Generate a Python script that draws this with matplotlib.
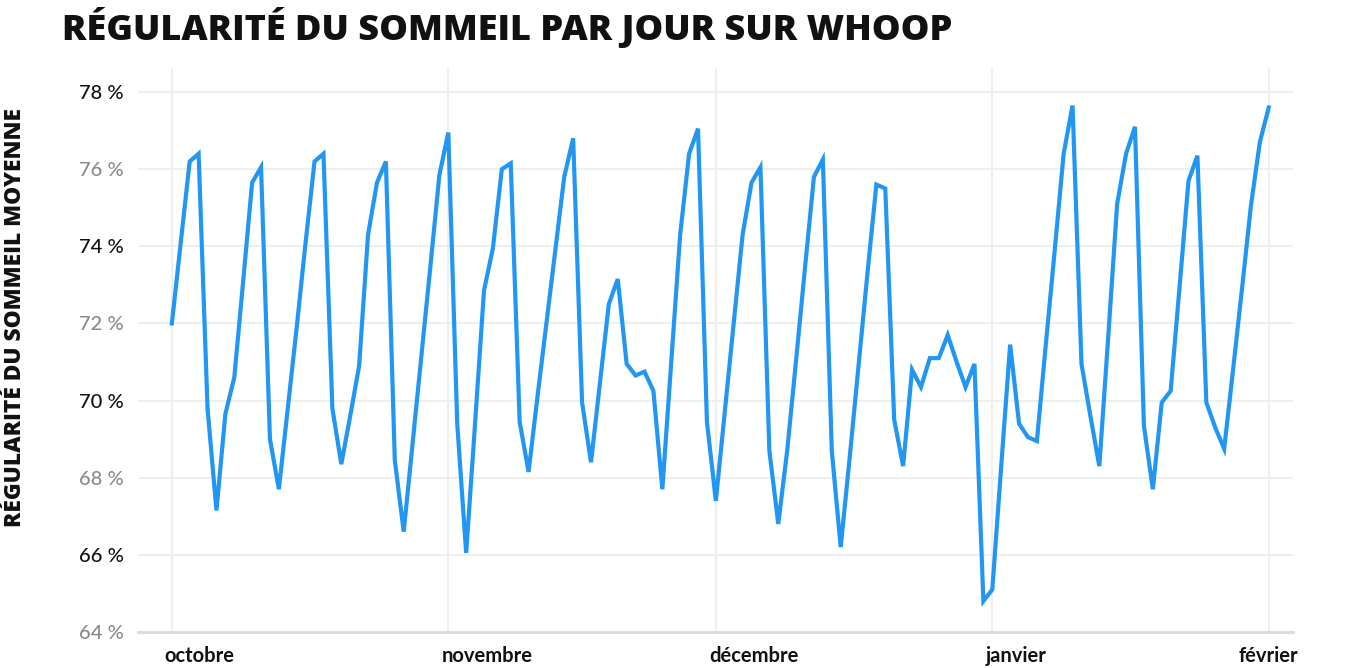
import numpy as np
import pandas as pd
import matplotlib
matplotlib.use("Agg")
import matplotlib.pyplot as plt
import matplotlib.transforms as mtransforms

# Régularité du sommeil par jour (1 oct -> 1 fév)
debut = "2023-10-01"
regularite = [
    72.0, 74.1, 76.2, 76.4, 69.8, 67.15, 69.65, 70.6, 73.1, 75.65,
    76.05, 69.0, 67.7, 69.8, 71.9, 74.1, 76.2, 76.4, 69.8, 68.35,
    69.6, 70.9, 74.3, 75.65, 76.2, 68.45, 66.6, 68.9, 71.2, 73.5,
    75.85, 76.95, 69.4, 66.05, 69.4, 72.85, 73.95, 76.0, 76.15, 69.45,
    68.15, 70.1, 72.0, 73.9, 75.8, 76.8, 69.95, 68.4, 70.45, 72.5,
    73.15, 70.95, 70.65, 70.75, 70.25, 67.7, 71.0, 74.3, 76.4, 77.05,
    69.45, 67.4, 69.7, 72.0, 74.3, 75.65, 76.05, 68.7, 66.8, 68.7,
    71.05, 73.45, 75.8, 76.25, 68.7, 66.2, 68.5, 70.9, 73.3, 75.6,
    75.5, 69.5, 68.3, 70.8, 70.35, 71.1, 71.1, 71.7, 71.0, 70.35,
    70.95, 64.8, 65.1, 68.3, 71.45, 69.4, 69.05, 68.95, 71.45, 73.9,
    76.4, 77.65, 70.95, 69.6, 68.3, 71.65, 75.1, 76.4, 77.1, 69.35,
    67.7, 69.95, 70.25, 72.95, 75.7, 76.35, 69.95, 69.3, 68.75, 70.8,
    72.9, 75.05, 76.7, 77.6,
]
jours = pd.date_range(debut, periods=len(regularite), freq="D")

mois = pd.to_datetime(["2023-10-01", "2023-11-01", "2023-12-01", "2024-01-01", "2024-02-01"])
mois_labels = ["octobre", "novembre", "décembre", "janvier", "février"]
y_ticks = [64, 66, 68, 70, 72, 74, 76, 78]

fig = plt.figure(figsize=(13.46, 6.68), dpi=100)
ax = fig.add_axes([0.1025, 0.054, 0.858, 0.844])

ax.plot(jours, regularite, color="#2196f3", lw=3.0, solid_joinstyle="miter")

ax.set_ylim(64, 78.62)
ax.set_xlim(jours[0] - pd.Timedelta(days=3.8), jours[-1] + pd.Timedelta(days=2.7))

# grilles
for y in y_ticks[1:]:
    ax.axhline(y, color="#efefef", lw=1.5, zorder=0)
for m in mois:
    ax.axvline(m, color="#efefef", lw=1.5, zorder=0)
for s in ["top", "right", "left"]:
    ax.spines[s].set_visible(False)
ax.spines["bottom"].set_color("#dadada")
ax.spines["bottom"].set_linewidth(2)

ax.set_yticks(y_ticks)
ax.set_yticklabels([f"{v} %" for v in y_ticks], fontsize=14.5, fontfamily="Lato", fontweight="medium")
for i, lab in enumerate(ax.get_yticklabels()):
    lab.set_color("#111111" if y_ticks[i] % 4 == 2 else "#8a8a8a")
ax.tick_params(axis="y", length=0, pad=10)

ax.set_xticks(mois)
ax.set_xticklabels(mois_labels, fontsize=14.5, fontfamily="Lato", fontweight="bold", color="#111111")
ax.tick_params(axis="x", length=0, pad=10)
for i, lab in enumerate(ax.get_xticklabels()):
    if i < len(mois_labels) - 1:
        lab.set_horizontalalignment("left")
        lab.set_transform(lab.get_transform() + mtransforms.ScaledTranslation(-0.07, 0, fig.dpi_scale_trans))

fig.text(0.046, 0.958, "RÉGULARITÉ DU SOMMEIL PAR JOUR SUR WHOOP", fontsize=26,
         fontfamily="Open Sans", fontweight="heavy", color="#111111", va="center", ha="left")
fig.text(0.011, 0.525, "RÉGULARITÉ DU SOMMEIL MOYENNE", rotation=90, fontsize=16.4,
         fontfamily="Open Sans", fontweight="heavy", color="#111111", va="center", ha="center")

fig.savefig("out.png", dpi=100)
